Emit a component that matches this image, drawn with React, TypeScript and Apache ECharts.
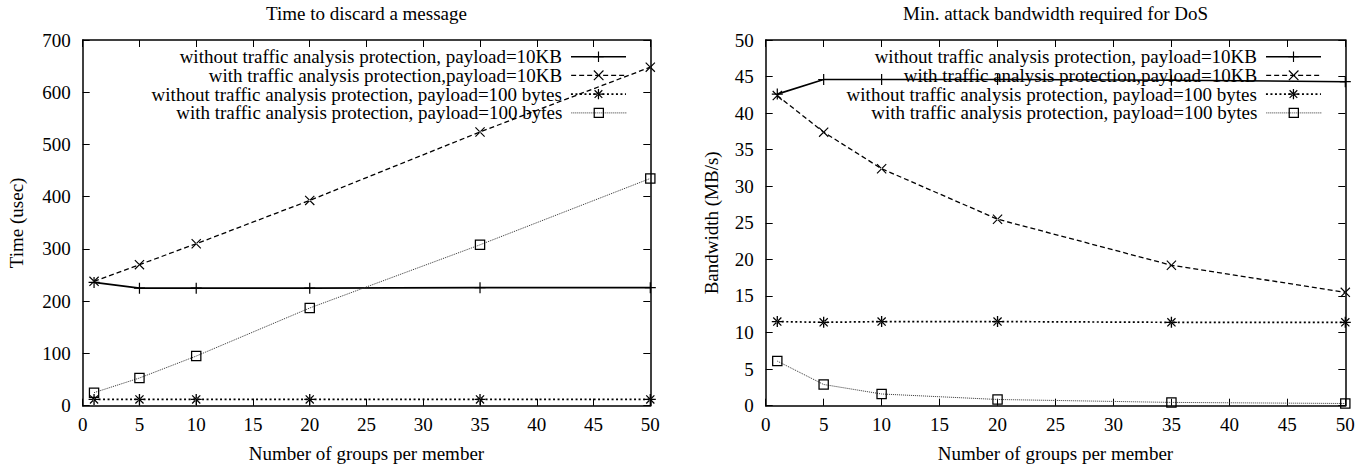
import React, { useEffect, useRef } from "react";
import * as echarts from "echarts";

// ---- data ----
const groups = [1, 5, 10, 20, 35, 50];
const seriesNames = [
  "without traffic analysis protection, payload=10KB",
  "with traffic analysis protection,payload=10KB",
  "without traffic analysis protection, payload=100 bytes",
  "with traffic analysis protection, payload=100 bytes",
];
const chartTitles = ["Time to discard a message", "Min. attack bandwidth required for DoS"];
const yNames = ["Time (usec)", "Bandwidth (MB/s)"];
const xName = "Number of groups per member";

const timeNoProt10KB = [236, 225, 225, 225, 226, 226];
const timeProt10KB = [238, 270, 310, 393, 524, 648];
const timeNoProt100B = [12, 12, 12, 12, 12, 12];
const timeProt100B = [25, 53, 95, 187, 308, 435];

const bwNoProt10KB = [42.6, 44.6, 44.6, 44.6, 44.5, 44.3];
const bwProt10KB = [42.4, 37.4, 32.4, 25.5, 19.2, 15.5];
const bwNoProt100B = [11.5, 11.4, 11.5, 11.5, 11.4, 11.4];
const bwProt100B = [6.1, 2.9, 1.6, 0.85, 0.45, 0.3];

const xRange = { min: 0, max: 50, interval: 5 };
const yRanges = [
  { min: 0, max: 700, interval: 100 },
  { min: 0, max: 50, interval: 5 },
];

// ---- styling ----
const FONT = "Liberation Serif";
const FS = 19;
const plusPath = "path://M4.45,0H5.55V10H4.45Z M0,4.45H10V5.55H0Z";
const xPath = "path://M0,0.8L0.8,0L10,9.2L9.2,10Z M10,0.8L9.2,0L0,9.2L0.8,10Z";
const starPath =
  "path://M4.4,0H5.6V10H4.4Z M0,4.4H10V5.6H0Z M0.9,1.7L1.7,0.9L9.1,8.3L8.3,9.1Z M9.1,1.7L8.3,0.9L0.9,8.3L1.7,9.1Z";
const squarePath = "path://M0,0H10V10H0Z M1.2,1.2V8.8H8.8V1.2Z";

const seriesStyles = [
  { symbol: plusPath, symbolSize: 11, width: 1.6, type: "solid" as any, color: "#000" },
  { symbol: xPath, symbolSize: 10, width: 1.3, type: [5, 3] as any, color: "#000" },
  { symbol: starPath, symbolSize: 11, width: 1.7, type: [2, 2.5] as any, color: "#000" },
  { symbol: squarePath, symbolSize: 10.5, width: 1, type: [1, 1] as any, color: "#333" },
];

const grids = [
  { left: 82.7, top: 40, width: 567.6, height: 365.7 },
  { left: 765.7, top: 40, width: 579.6, height: 365.7 },
];
const legendRight = [745.2, 50.2];
const legendTops = [47.2, 65.8, 84.6, 103.4];
const yNameGaps = [57, 45];

export default function App() {
  const ref = useRef<HTMLDivElement>(null);
  useEffect(() => {
    if (!ref.current) return;
    const chart = echarts.init(ref.current, undefined, { renderer: "svg" });
    const datasets = [
      [timeNoProt10KB, timeProt10KB, timeNoProt100B, timeProt100B],
      [bwNoProt10KB, bwProt10KB, bwNoProt100B, bwProt100B],
    ];
    const axisLine = { show: true, onZero: false, lineStyle: { color: "#000", width: 1.5 } };
    const axisTick = { show: true, inside: true, length: 7, lineStyle: { color: "#000", width: 1 } };
    const labelStyle = { color: "#000", fontSize: FS, fontFamily: FONT };

    const xAxis: any[] = [];
    const yAxis: any[] = [];
    const series: any[] = [];
    const legend: any[] = [];
    const graphic: any[] = [];

    grids.forEach((g, c) => {
      xAxis.push({
        type: "value", gridIndex: c, ...xRange, position: "bottom",
        axisLine, axisTick, splitLine: { show: false },
        axisLabel: { ...labelStyle, margin: 9 },
        name: xName, nameLocation: "middle", nameGap: 38,
        nameTextStyle: labelStyle,
      });
      xAxis.push({
        type: "value", gridIndex: c, ...xRange, position: "top",
        axisLine, axisTick, splitLine: { show: false }, axisLabel: { show: false },
      });
      yAxis.push({
        type: "value", gridIndex: c, ...yRanges[c], position: "left",
        axisLine, axisTick, splitLine: { show: false },
        axisLabel: { ...labelStyle, margin: 12 },
        name: yNames[c], nameLocation: "middle", nameGap: yNameGaps[c],
        nameTextStyle: labelStyle,
      });
      yAxis.push({
        type: "value", gridIndex: c, ...yRanges[c], position: "right",
        axisLine, axisTick, splitLine: { show: false }, axisLabel: { show: false },
      });
      datasets[c].forEach((vals, k) => {
        const st = seriesStyles[k];
        series.push({
          type: "line",
          name: seriesNames[k],
          xAxisIndex: 2 * c,
          yAxisIndex: 2 * c,
          data: groups.map((gx, i) => [gx, vals[i]]),
          symbol: st.symbol,
          symbolSize: st.symbolSize,
          showAllSymbol: true,
          itemStyle: { color: "#000" },
          lineStyle: { color: st.color, width: st.width, type: st.type },
          emphasis: { disabled: true },
          z: 3,
        });
        legend.push({
          data: [seriesNames[k]],
          right: legendRight[c],
          top: legendTops[k],
          orient: "horizontal",
          align: "right",
          itemWidth: 55,
          itemHeight: 13,
          padding: 0,
          selectedMode: false,
          lineStyle: { width: st.width },
          textStyle: { color: "#000", fontSize: FS, fontFamily: FONT, padding: [0, 4, 0, 0] },
        });
      });
      graphic.push({
        type: "text",
        x: g.left + g.width / 2,
        y: 4,
        style: {
          text: chartTitles[c],
          align: "center",
          verticalAlign: "top",
          font: `${FS}px "${FONT}"`,
          fill: "#000",
        },
      });
    });

    chart.setOption({
      animation: false,
      backgroundColor: "#fff",
      grid: grids.map((g) => ({ ...g, containLabel: false })),
      xAxis,
      yAxis,
      series,
      legend,
      graphic,
      tooltip: { show: false },
    });
    return () => chart.dispose();
  }, []);
  return (
    <div
      ref={ref}
      style={{ position: "absolute", left: 0, top: 0, width: 1372, height: 468, background: "#fff" }}
    />
  );
}
